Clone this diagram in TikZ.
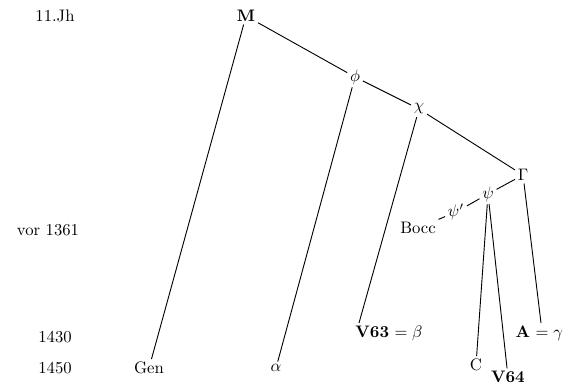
\documentclass[tikz,border=0pt]{standalone}
\begin{document}
\begin{tikzpicture}[x=0.6pt,y=-0.6pt,
  lbl/.style={inner sep=1.5pt, font=\fontsize{10}{12}\selectfont},
  edge/.style={line width=0.55pt}]
\useasboundingbox (0,0) rectangle (564,386);
% time labels
\node[lbl] (t1) at (55,16) {11.Jh};
\node[lbl] (t2) at (48,230) {vor 1361};
\node[lbl] (t3) at (55,337) {1430};
\node[lbl] (t4) at (55,368) {1450};
% tree nodes
\node[lbl] (M) at (246,16) {\textbf{M}};
\node[lbl] (phi) at (355,77) {$\phi$};
\node[lbl] (chi) at (419,109) {$\chi$};
\node[lbl] (G) at (523,175) {$\Gamma$};
\node[lbl] (psi) at (488,194) {$\psi$};
\node[lbl] (psip) at (456,212) {$\psi'$};
\node[lbl] (Bocc) at (418,228) {Bocc};
\node[lbl] (V63) at (389,333) {\textbf{V63} $=\beta$};
\node[lbl, anchor=east, inner sep=0.5pt] (A) at (564,333) {\textbf{A} $=\gamma$};
\node[lbl] (Gen) at (149,368) {Gen};
\node[lbl] (alpha) at (276,368) {$\alpha$};
\node[lbl] (C) at (476,365) {C};
\node[lbl] (V64) at (508,377) {\textbf{V64}};
\coordinate (V63t) at (359,323);
\coordinate (At) at (541,323);
% edges
\draw[edge] (M) -- (phi);
\draw[edge] (phi) -- (chi);
\draw[edge] (chi) -- (G);
\draw[edge] (M) -- (Gen);
\draw[edge] (phi) -- (alpha);
\draw[edge] (chi) -- (V63t);
\draw[edge] (G) -- (At);
\draw[edge] (G) -- (psi);
\draw[edge] (psi) -- (psip);
\draw[edge] (psip) -- (Bocc);
\draw[edge] (psi) -- (C);
\draw[edge] (psi) -- (V64);
\end{tikzpicture}
\end{document}
